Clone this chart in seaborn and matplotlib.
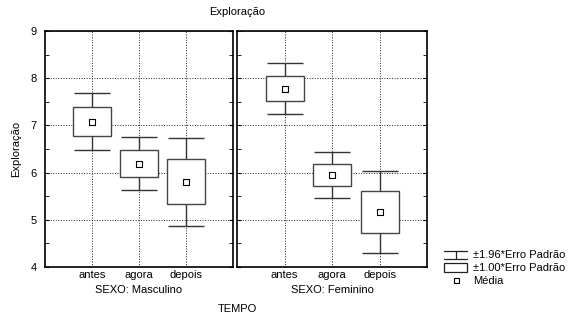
import numpy as np
import pandas as pd
import seaborn as sns
import matplotlib.pyplot as plt
from matplotlib.patches import Rectangle
from matplotlib.lines import Line2D

sns.set_style("ticks")
plt.rcParams['font.family'] = ['Liberation Sans', 'DejaVu Sans']
plt.rcParams['text.color'] = 'black'
plt.rcParams['axes.labelcolor'] = 'black'
plt.rcParams['xtick.color'] = 'black'
plt.rcParams['ytick.color'] = 'black'

tempo = ["antes", "agora", "depois"]
sexo = ["Masculino", "Feminino"]

# means, +-1.00 SE box, +-1.96 SE whiskers
media = {"Masculino": [7.07, 6.19, 5.80], "Feminino": [7.78, 5.95, 5.17]}
box_lo = {"Masculino": [6.77, 5.91, 5.33], "Feminino": [7.52, 5.71, 4.73]}
box_hi = {"Masculino": [7.39, 6.48, 6.28], "Feminino": [8.05, 6.18, 5.61]}
wh_lo = {"Masculino": [6.48, 5.64, 4.87], "Feminino": [7.24, 5.46, 4.30]}
wh_hi = {"Masculino": [7.69, 6.75, 6.73], "Feminino": [8.32, 6.43, 6.04]}

FS = 8

fig = plt.figure(figsize=(5.69, 3.14), dpi=100)
axes = [fig.add_axes([45/569, 1-267/314, 188/569, 236/314]),
        fig.add_axes([237/569, 1-267/314, 190/569, 236/314])]

for ax, s in zip(axes, sexo):
    df = pd.DataFrame({"TEMPO": tempo, "media": media[s],
                       "lo": box_lo[s], "hi": box_hi[s],
                       "wlo": wh_lo[s], "whi": wh_hi[s]})
    x = np.arange(len(tempo))
    ax.errorbar(x, df["media"], yerr=[df["media"] - df["wlo"], df["whi"] - df["media"]],
                fmt="none", ecolor="#333333", elinewidth=1, capsize=13, capthick=1, zorder=2)
    ax.bar(x, df["hi"] - df["lo"], bottom=df["lo"], width=0.8,
           color="white", edgecolor="#444444", linewidth=1, zorder=3)
    sns.scatterplot(x=x, y=df["media"], ax=ax, marker="s", s=18, color="white",
                    edgecolor="black", linewidth=0.8, zorder=4, legend=False)
    ax.set_xlim(-1, 3)
    ax.set_ylim(4, 9)
    ax.set_xticks(x)
    ax.set_xticklabels(tempo, fontsize=FS)
    ax.set_yticks([4, 5, 6, 7, 8, 9])
    ax.set_yticks(np.arange(4.5, 9, 1), minor=True)
    ax.grid(True, which="major", linestyle=":", color="#222222", linewidth=0.7)
    ax.tick_params(axis="both", which="both", direction="in", length=3,
                   left=True, right=True, bottom=False, labelsize=FS, pad=6)
    ax.tick_params(axis="x", pad=2)
    for sp in ax.spines.values():
        sp.set_visible(True)
        sp.set_color("black")
        sp.set_linewidth(1.2)
    ax.set_xlabel("SEXO: " + s, fontsize=FS, labelpad=4)
    ax.set_ylabel("")
    ax.set_axisbelow(True)

axes[1].tick_params(axis="y", labelleft=False)
axes[0].set_ylabel("Exploração", fontsize=FS, labelpad=7)

fig.text(237/569, 1-12/314, "Exploração", ha="center", va="center", fontsize=FS)
fig.text(237/569, 1-309/314, "TEMPO", ha="center", va="center", fontsize=FS)

# legend drawn in figure pixels
def px(xp, yp):
    return xp/569, 1-yp/314

lc = "#222222"
for (x0, y0), (x1, y1) in [((444, 251), (467, 251)), ((444, 259), (467, 259)),
                           ((455.5, 251), (455.5, 259))]:
    a, b = px(x0, y0)
    c, d = px(x1, y1)
    fig.add_artist(Line2D([a, c], [b, d], color=lc, linewidth=0.9))
rx, ry = px(444, 272)
fig.add_artist(Rectangle((rx, ry), 23/569, 9/314, facecolor="white",
                         edgecolor=lc, linewidth=0.9))
sx, sy = px(454, 283)
fig.add_artist(Rectangle((sx, sy), 5/569, 5/314, facecolor="white",
                         edgecolor="black", linewidth=0.8))
for yp, t in [(255, "±1.96*Erro Padrão"), (268, "±1.00*Erro Padrão"), (281, "Média")]:
    tx, ty = px(473, yp)
    fig.text(tx, ty, t, ha="left", va="center", fontsize=FS)

fig.savefig("out.png", dpi=100)
